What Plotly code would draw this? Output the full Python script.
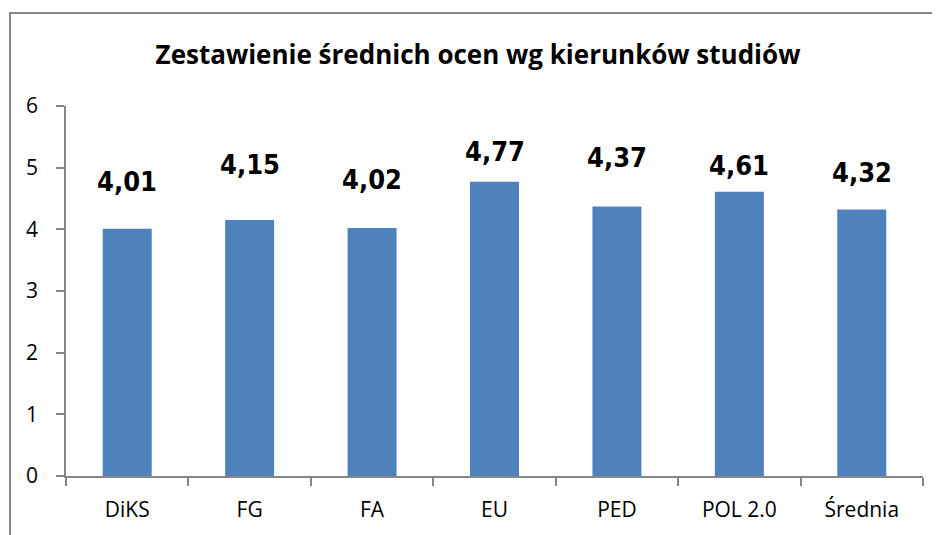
import plotly.graph_objects as go

categories = ["DiKS", "FG", "FA", "EU", "PED", "POL 2.0", "Średnia"]
values = [4.01, 4.15, 4.02, 4.77, 4.37, 4.61, 4.32]
y_ticks = [0, 1, 2, 3, 4, 5, 6]
# manual label offsets above each bar (px), as placed in the original
label_gap = [36, 44, 37, 19, 38, 15, 26]

W, H = 940, 535
OFF = 8  # default page body margin
L, T = 66 - OFF, 106 - OFF
R = W - (923 - OFF)
B = H - (476 - OFF)
pw, ph = W - L - R, H - T - B

fig = go.Figure()
fig.add_trace(go.Bar(x=categories, y=values, marker=dict(color="#4F81BD", line=dict(width=0)),
                     hoverinfo="x+y"))

for c, v, g in zip(categories, values, label_gap):
    fig.add_annotation(x=c, y=v, text=f"{v:.2f}".replace(".", ","), showarrow=False,
                       yanchor="bottom", yshift=g - 6,
                       font=dict(family="DejaVu Sans Condensed, sans-serif",
                                 size=27, color="black", weight="bold"))

# outer chart border (in paper coordinates)
fig.add_shape(type="rect", xref="paper", yref="paper",
              x0=(10 - 66) / pw, x1=(980 - 66) / pw,
              y0=-(600 - 476) / ph, y1=(476 - 13) / ph,
              line=dict(color="#868686", width=2), fillcolor="rgba(0,0,0,0)", layer="below")

fig.update_layout(
    width=W, height=H,
    margin=dict(l=L, r=R, t=T, b=B),
    paper_bgcolor="white", plot_bgcolor="white",
    bargap=0.6,
    showlegend=False,
    title=dict(text="<b>Zestawienie średnich ocen wg kierunków studiów</b>",
               x=(478 - OFF) / W, xanchor="center", y=1 - (55 - OFF) / H, yanchor="middle",
               font=dict(family="Open Sans, sans-serif", size=26, color="black")),
    font=dict(family="Open Sans, sans-serif", size=21, color="black"),
)
fig.update_xaxes(showline=True, linecolor="#868686", linewidth=1.5,
                 ticks="outside", ticklen=8, tickcolor="#868686", tickwidth=1.5,
                 tickson="boundaries", showgrid=False, automargin=False, ticklabelstandoff=14,
                 tickfont=dict(size=21, family="Open Sans, sans-serif"))
fig.update_yaxes(range=[0, 6], tickvals=y_ticks, showline=True, linecolor="#868686", linewidth=1.5,
                 ticks="outside", ticklen=8, tickcolor="#868686", tickwidth=1.5,
                 showgrid=False, zeroline=False, ticklabelstandoff=14, automargin=False,
                 tickfont=dict(size=21, family="Open Sans, sans-serif"))

fig.write_html("out.html")
